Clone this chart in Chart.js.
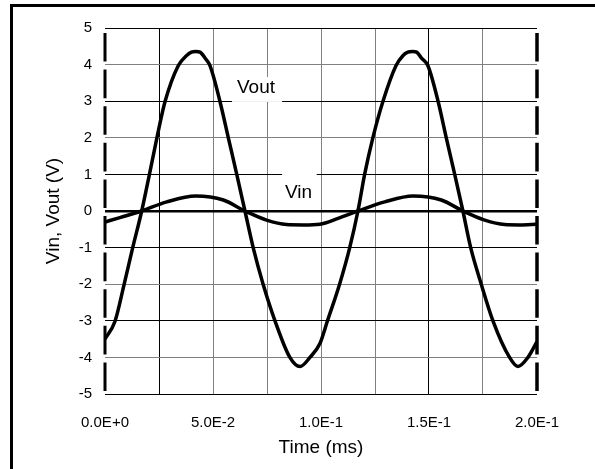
<!DOCTYPE html>
<html>
<head>
<meta charset="utf-8">
<script src="https://cdn.jsdelivr.net/npm/chart.js@4.4.1/dist/chart.umd.min.js"></script>
<style>
  html, body { margin: 0; padding: 0; background: #fff; }
  #wrap { width: 595px; height: 469px; }
</style>
</head>
<body>
<div id="wrap"><canvas id="chart" width="595" height="469"></canvas></div>
<script>
// Values (time in ms, volts)
const voutTime = [0.000, 0.0046, 0.0088, 0.0128, 0.0170, 0.0205, 0.0240, 0.0278, 0.0339, 0.0378, 0.0400, 0.0420, 0.0440,
  0.0463, 0.0486, 0.0532, 0.0571, 0.0610, 0.0648, 0.0686, 0.0732, 0.0787, 0.0856, 0.0903, 0.0949, 0.0995, 0.1030,
  0.1086, 0.1133, 0.1171, 0.1202, 0.1240, 0.1287, 0.1347, 0.1380, 0.1402, 0.1423, 0.1443, 0.1465, 0.1495, 0.1542,
  0.1580, 0.1619, 0.1657, 0.1693, 0.1742, 0.1796, 0.1873, 0.1912, 0.1958, 0.2000];
const voutVolts = [-3.50, -3.02, -2.02, -1.01, 0.00, 0.98, 1.99, 2.99, 3.97, 4.25, 4.34, 4.36, 4.34,
  4.18, 3.97, 3.00, 2.00, 1.00, 0.00, -1.00, -2.00, -3.00, -4.00, -4.25, -4.00, -3.62, -3.00,
  -2.00, -1.00, 0.00, 1.00, 2.00, 3.00, 3.97, 4.25, 4.34, 4.36, 4.34, 4.18, 3.97, 3.00,
  2.00, 1.00, 0.00, -1.00, -2.00, -3.00, -4.00, -4.25, -4.00, -3.57];

const vinTime = [0.000, 0.0069, 0.0170, 0.0286, 0.0420, 0.0548, 0.0648, 0.0748, 0.0840, 0.0920, 0.0995,
  0.1079, 0.1171, 0.1295, 0.1426, 0.1557, 0.1657, 0.1758, 0.1850, 0.1920, 0.2000];
const vinVolts = [-0.30, -0.18, 0.00, 0.25, 0.41, 0.30, 0.00, -0.25, -0.37, -0.38, -0.36,
  -0.20, 0.00, 0.25, 0.41, 0.30, 0.00, -0.25, -0.37, -0.38, -0.36];

const xTickLabels = ['0.0E+0', '5.0E-2', '1.0E-1', '1.5E-1', '2.0E-1'];
const seriesNames = ['Vout', 'Vin'];

const FONT = '"Liberation Sans", Arial, sans-serif';
Chart.defaults.font.family = FONT;
Chart.defaults.color = '#000';

const GRAY = '#808080';

// frame, dashed side axes and the in-plot curve labels
const framePlugin = {
  id: 'frame',
  beforeDraw(chart) {
    const ctx = chart.ctx;
    ctx.save();
    ctx.fillStyle = '#fff';
    ctx.fillRect(0, 0, chart.width, chart.height);
    ctx.strokeStyle = '#000';
    ctx.lineWidth = 3;
    ctx.beginPath();
    ctx.moveTo(11.5, chart.height);
    ctx.lineTo(11.5, 5.5);
    ctx.lineTo(chart.width, 5.5);
    ctx.stroke();
    ctx.restore();
  },
  beforeDatasetsDraw(chart) {
    const { ctx, scales: { x, y } } = chart;
    const labels = [
      { text: seriesNames[0], box: [0.0588, 0.082, 2.98, 3.66], at: [0.0611, 3.36] },
      { text: seriesNames[1], box: [0.082, 0.098, 0.16, 1.12], at: [0.0833, 0.49] }
    ];
    ctx.save();
    ctx.font = '19px ' + FONT;
    ctx.textBaseline = 'middle';
    labels.forEach(l => {
      const x0 = x.getPixelForValue(l.box[0]), x1 = x.getPixelForValue(l.box[1]);
      const y0 = y.getPixelForValue(l.box[3]), y1 = y.getPixelForValue(l.box[2]);
      ctx.fillStyle = '#fff';
      ctx.fillRect(x0, y0, x1 - x0, y1 - y0);
      ctx.fillStyle = '#000';
      ctx.fillText(l.text, x.getPixelForValue(l.at[0]), y.getPixelForValue(l.at[1]));
    });
    ctx.restore();
  },
  afterDatasetsDraw(chart) {
    const { ctx, chartArea, scales: { y } } = chart;
    const vals = y.ticks.map(t => t.value).sort((a, b) => a - b);
    ctx.save();
    ctx.strokeStyle = '#000';
    [[chartArea.left, 3], [chartArea.right, 3.5]].forEach(([px, w]) => {
      ctx.lineWidth = w;
      ctx.beginPath();
      for (let i = 0; i < vals.length - 1; i++) {
        const top = y.getPixelForValue(vals[i + 1]) + 5;
        const bot = y.getPixelForValue(vals[i]) - 3;
        ctx.moveTo(px, top);
        ctx.lineTo(px, bot);
      }
      ctx.stroke();
    });
    ctx.restore();
  }
};

const xGridColors = ['rgba(0,0,0,0)', '#000', GRAY, GRAY, GRAY, GRAY, '#000', GRAY, 'rgba(0,0,0,0)'];

new Chart(document.getElementById('chart'), {
  type: 'scatter',
  data: {
    datasets: [
      {
        label: seriesNames[0],
        data: voutTime.map((t, i) => ({ x: t, y: voutVolts[i] })),
        showLine: true, borderColor: '#000', borderWidth: 3.5, pointRadius: 0,
        cubicInterpolationMode: 'monotone'
      },
      {
        label: seriesNames[1],
        data: vinTime.map((t, i) => ({ x: t, y: vinVolts[i] })),
        showLine: true, borderColor: '#000', borderWidth: 3.5, pointRadius: 0,
        cubicInterpolationMode: 'monotone'
      }
    ]
  },
  options: {
    responsive: false,
    animation: false,
    events: [],
    layout: { padding: { top: 28, right: 58, left: 0, bottom: 0 } },
    plugins: { legend: { display: false }, tooltip: { enabled: false } },
    scales: {
      x: {
        type: 'linear', min: 0, max: 0.2,
        afterFit(s) { s.height = 75; },
        ticks: {
          stepSize: 0.025, autoSkip: false, maxRotation: 0, padding: 20,
          font: { size: 15 },
          callback: (v, i) => (i % 2 ? '' : xTickLabels[i / 2])
        },
        grid: { drawTicks: false, lineWidth: 1, color: c => xGridColors[c.index] || GRAY },
        border: { display: false },
        title: { display: true, text: 'Time (ms)', font: { size: 19 }, padding: { top: 0, bottom: 10 } }
      },
      y: {
        min: -5, max: 5,
        afterFit(s) { s.width = 105; },
        ticks: { stepSize: 1, padding: 13, font: { size: 15 } },
        grid: {
          drawTicks: false,
          lineWidth: c => (c.tick && c.tick.value === 0 ? 2.5 : 1),
          color: c => (c.tick && Math.abs(c.tick.value) % 2 === 0 && c.tick.value !== 0 ? GRAY : '#000')
        },
        border: { display: false },
        title: { display: true, text: 'Vin, Vout (V)', font: { size: 19 }, padding: { top: 42, bottom: 0 } }
      }
    }
  },
  plugins: [framePlugin]
});
</script>
</body>
</html>
